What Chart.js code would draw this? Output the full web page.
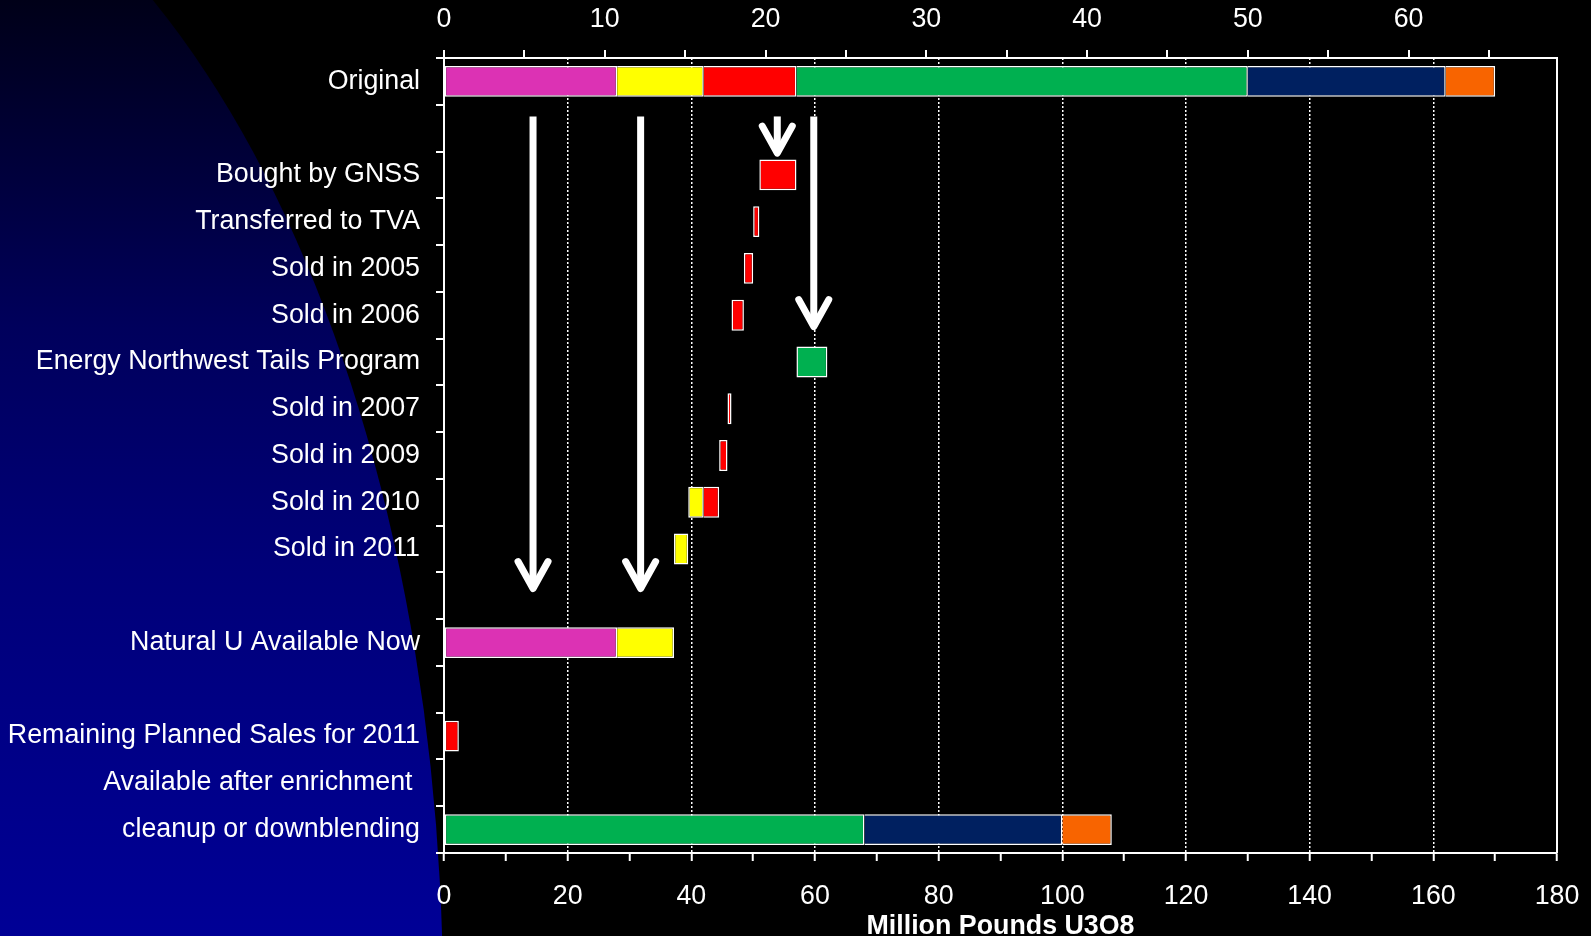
<!DOCTYPE html>
<html>
<head>
<meta charset="utf-8">
<script src="https://cdn.jsdelivr.net/npm/chart.js@4.4.1/dist/chart.umd.min.js"></script>
<style>
  html, body { margin: 0; padding: 0; background: #000; overflow: hidden; }
  #wrap { width: 1591px; height: 936px; }
</style>
</head>
<body>
<div id="wrap"><canvas id="chart"></canvas></div>
<script>
const categories = [
  "Original", "", "Bought by GNSS", "Transferred to TVA", "Sold in 2005", "Sold in 2006",
  "Energy Northwest Tails Program", "Sold in 2007", "Sold in 2009", "Sold in 2010", "Sold in 2011",
  "", "Natural U Available Now", "", "Remaining Planned Sales for 2011",
  "Available after enrichment ", "cleanup or downblending"
];

// [from, to] in million lb U3O8, one slot per row (null = nothing of that kind on the row)
const naturalU = [[0, 28], null, null, null, null, null, null, null, null, null, null, null, [0, 28], null, null, null, null];
const yellowPart = [[28, 42], null, null, null, null, null, null, null, null, [39.5, 42], [37.2, 39.5], null, [28, 37.2], null, null, null, null];
const redPart = [[42, 57], null, [51, 57], [50, 51], [48.5, 50], [46.5, 48.5], null, [45.85, 46.5], [44.5, 45.85], [42, 44.5], null, null, null, null, [0, 2.4], null, null];
const greenPart = [[57, 130], null, null, null, null, null, [57, 62], null, null, null, null, null, null, null, null, null, [0, 68]];
const navyPart = [[130, 162], null, null, null, null, null, null, null, null, null, null, null, null, null, null, null, [68, 100]];
const orangePart = [[162, 170], null, null, null, null, null, null, null, null, null, null, null, null, null, null, null, [100, 108]];

const bottomTicks = [0, 20, 40, 60, 80, 100, 120, 140, 160, 180];
const gridValues = [20, 40, 60, 80, 100, 120, 140, 160];
const topTicks = [0, 10, 20, 30, 40, 50, 60];
const MLB_PER_KTU = 2.6; // top axis is thousand tonnes U

// flow arrows: x in million lb, from/to in row index
const arrows = [
  { x: 14.4, from: 0.75, to: 10.92 },
  { x: 31.8, from: 0.75, to: 10.92 },
  { x: 53.9, from: 0.75, to: 1.61 },
  { x: 59.8, from: 0.75, to: 5.32 }
];

const series = [naturalU, yellowPart, redPart, greenPart, navyPart, orangePart];
const colors = ["#dc32b4", "#ffff00", "#ff0000", "#00b050", "#002060", "#f86400"];

const FONT = "'Liberation Sans', Arial, sans-serif";
const SIZE = 26.8;
Chart.defaults.font.family = FONT;

// a piece that continues another one on the same row shares its border
function skipLeft(c) {
  const r = c.raw;
  if (!r || r[0] <= 0) return false;
  const joined = series.some(s => s[c.dataIndex] && s[c.dataIndex][1] === r[0]);
  return joined ? "left" : false;
}

const datasets = series.map((data, i) => ({
  data: data,
  backgroundColor: colors[i],
  borderColor: "#fff",
  borderWidth: 1.5,
  borderSkipped: skipLeft,
  grouped: false,
  barPercentage: 1,
  categoryPercentage: 0.66
}));

const backdrop = {
  id: "backdrop",
  beforeDraw(chart) {
    const { ctx, width, height } = chart;
    ctx.save();
    ctx.fillStyle = "#000";
    ctx.fillRect(0, 0, width, height);
    const g = ctx.createLinearGradient(0, 0, 0, height);
    g.addColorStop(0, "#000018");
    g.addColorStop(0.35, "#00005c");
    g.addColorStop(0.6, "#000078");
    g.addColorStop(1, "#000096");
    ctx.fillStyle = g;
    ctx.beginPath();
    ctx.ellipse(-206, 1000, 649, 1200, 0, 0, Math.PI * 2);
    ctx.fill();
    ctx.restore();
  },
  afterDraw(chart) {
    const { ctx, chartArea: a } = chart;
    ctx.save();
    ctx.strokeStyle = "#fff";
    ctx.lineWidth = 2;
    ctx.beginPath();
    ctx.moveTo(a.right, a.top);
    ctx.lineTo(a.right, a.bottom);
    ctx.stroke();
    ctx.restore();
  }
};

const arrowPlugin = {
  id: "arrows",
  afterDatasetsDraw(chart) {
    const { ctx, scales: { x, y } } = chart;
    ctx.save();
    ctx.strokeStyle = "#fff";
    ctx.lineWidth = 7;
    arrows.forEach(a => {
      const px = x.getPixelForValue(a.x);
      const top = y.getPixelForValue(a.from);
      const tip = y.getPixelForValue(a.to) - 3.5;
      ctx.lineCap = "butt";
      ctx.beginPath();
      ctx.moveTo(px, top);
      ctx.lineTo(px, tip);
      ctx.stroke();
      ctx.lineCap = "round";
      ctx.lineJoin = "round";
      ctx.beginPath();
      ctx.moveTo(px - 15, tip - 27);
      ctx.lineTo(px, tip);
      ctx.lineTo(px + 15, tip - 27);
      ctx.stroke();
    });
    ctx.restore();
  }
};

// tick padding also widens the side margins of horizontal axes, so the
// labels are pushed away from the axis with a tall line height instead
new Chart(document.getElementById("chart"), {
  type: "bar",
  data: { labels: categories, datasets: datasets },
  plugins: [backdrop, arrowPlugin],
  options: {
    indexAxis: "y",
    responsive: true,
    maintainAspectRatio: false,
    animation: false,
    devicePixelRatio: 1,
    layout: { padding: { left: 0, right: 34, top: 0, bottom: 0 } },
    plugins: { legend: { display: false }, tooltip: { enabled: false } },
    scales: {
      y: {
        type: "category",
        position: "left",
        offset: true,
        grid: { offset: true, drawOnChartArea: false, color: "#fff", lineWidth: 2, tickLength: 8 },
        border: { color: "#fff", width: 2 },
        ticks: { color: "#fff", font: { size: SIZE }, padding: 16, autoSkip: false },
        afterFit: s => { s.width = 444; }
      },
      x: {
        type: "linear",
        position: "bottom",
        min: 0,
        max: 180,
        grid: {
          color: c => gridValues.includes(c.tick && c.tick.value) ? "#fff" : "rgba(0,0,0,0)",
          tickColor: "#fff",
          lineWidth: 1.5,
          tickWidth: 2,
          tickLength: 8
        },
        border: { color: "#fff", width: 2, dash: [2, 2] },
        ticks: {
          stepSize: 10,
          color: "#fff",
          font: { size: SIZE, lineHeight: 72 / SIZE },
          padding: 0,
          maxRotation: 0,
          autoSkip: false,
          callback: v => bottomTicks.includes(v) ? String(v) : ""
        },
        title: {
          display: true,
          text: "Million Pounds U3O8",
          color: "#fff",
          font: { size: SIZE, weight: "bold", lineHeight: 1 },
          padding: { top: 0, bottom: -4 }
        },
        afterFit: s => { s.height = 83; }
      },
      x2: {
        type: "linear",
        position: "top",
        min: 0,
        max: 180 / MLB_PER_KTU,
        grid: { drawOnChartArea: false, color: "#fff", lineWidth: 2, tickLength: 8 },
        border: { color: "#fff", width: 2 },
        ticks: {
          stepSize: 5,
          includeBounds: false,
          color: "#fff",
          font: { size: SIZE, lineHeight: 60.5 / SIZE },
          padding: 0,
          maxRotation: 0,
          autoSkip: false,
          callback: v => topTicks.includes(v) ? String(v) : ""
        },
        afterFit: s => { s.height = 58; }
      }
    }
  }
});
</script>
</body>
</html>
